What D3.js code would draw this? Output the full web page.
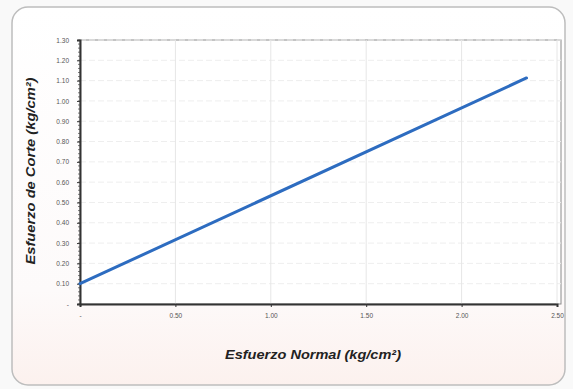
<!DOCTYPE html>
<html><head><meta charset="utf-8">
<script src="https://cdn.jsdelivr.net/npm/d3@7"></script>
<style>body{margin:0;background:#fff}svg{display:block}</style>
</head><body>
<script>
const normalStress = [0, 2.34];
const shearStress = [0.10, 1.113];
const xTicks = [0, 0.5, 1.0, 1.5, 2.0, 2.5];
const xTickLabels = ["-", "0.50", "1.00", "1.50", "2.00", "2.50"];
const yTicks = [0,0.1,0.2,0.3,0.4,0.5,0.6,0.7,0.8,0.9,1.0,1.1,1.2,1.3];
const yTickLabels = ["-","0.10","0.20","0.30","0.40","0.50","0.60","0.70","0.80","0.90","1.00","1.10","1.20","1.30"];

const W = 573, H = 389;
const svg = d3.select("body").append("svg").attr("width", W).attr("height", H);
const defs = svg.append("defs");
const grad = defs.append("linearGradient").attr("id","bg").attr("x1",0).attr("y1",0).attr("x2",0).attr("y2",1);
grad.append("stop").attr("offset","0%").attr("stop-color","#ffffff");
grad.append("stop").attr("offset","75%").attr("stop-color","#fdfafa");
grad.append("stop").attr("offset","100%").attr("stop-color","#fcf1ee");
svg.append("rect").attr("width",W).attr("height",H).attr("fill","#f9f9f9");
svg.append("rect").attr("x",12).attr("y",7).attr("width",553).attr("height",378).attr("rx",16)
  .attr("fill","url(#bg)").attr("stroke","#bdbdbd").attr("stroke-width",1.5);

const m = {l:80, r:561, t:40, b:304};
const x = d3.scaleLinear().domain([0, 2.5]).range([m.l, 557]);
const y = d3.scaleLinear().domain([0, 1.3]).range([m.b, m.t]);

// plot frame
svg.append("rect").attr("x",m.l).attr("y",m.t).attr("width",m.r-m.l).attr("height",m.b-m.t)
  .attr("fill","#fff").attr("stroke","#8a8a8a").attr("stroke-width",1);

// grid
const g = svg.append("g");
g.selectAll(".hg").data(yTicks.slice(1)).join("line")
  .attr("x1",m.l).attr("x2",m.r).attr("y1",d=>y(d)).attr("y2",d=>y(d))
  .attr("stroke","#eeeeee").attr("stroke-width",1).attr("stroke-dasharray","6,3");
g.selectAll(".vg").data(xTicks.slice(1)).join("line")
  .attr("y1",m.t).attr("y2",m.b).attr("x1",d=>x(d)).attr("x2",d=>x(d))
  .attr("stroke","#e6e6e6").attr("stroke-width",1);

// axes
const yAxis = d3.axisLeft(y).tickValues(yTicks).tickFormat((d,i)=>yTickLabels[i]).tickSize(3).tickPadding(8);
const ya = svg.append("g").attr("transform",`translate(${m.l},0)`).call(yAxis);
const xAxis = d3.axisBottom(x).tickValues(xTicks).tickFormat((d,i)=>xTickLabels[i]).tickSize(3).tickPadding(6);
const xa = svg.append("g").attr("transform",`translate(0,${m.b})`).call(xAxis);
[ya, xa].forEach(a=>{
  a.select(".domain").attr("stroke","#333").attr("stroke-width",2);
  a.selectAll(".tick line").attr("stroke","#333");
  a.selectAll("text").attr("font-family","Liberation Sans, Arial, sans-serif").attr("font-size",6.5).attr("fill","#555");
});
// minor ticks on y
svg.append("g").selectAll("line").data(d3.range(0,1.301,0.02)).join("line")
  .attr("x1",m.l-2).attr("x2",m.l).attr("y1",d=>y(d)).attr("y2",d=>y(d)).attr("stroke","#444").attr("stroke-width",0.7);

// line
const data = normalStress.map((v,i)=>[v, shearStress[i]]);
svg.append("path").datum(data)
  .attr("d", d3.line().x(d=>x(d[0])).y(d=>y(d[1])))
  .attr("fill","none").attr("stroke","#2d6cc0").attr("stroke-width",3).attr("stroke-linecap","round");

// titles
svg.append("text").attr("x",313).attr("y",359).attr("text-anchor","middle")
  .attr("font-family","Liberation Sans, Arial, sans-serif").attr("font-weight","bold").attr("font-style","italic")
  .attr("font-size",12).attr("fill","#222")
  .attr("textLength",176).attr("lengthAdjust","spacingAndGlyphs").text("Esfuerzo Normal (kg/cm²)");
svg.append("text").attr("transform","translate(35,171) rotate(-90)").attr("text-anchor","middle")
  .attr("font-family","Liberation Sans, Arial, sans-serif").attr("font-weight","bold").attr("font-style","italic")
  .attr("font-size",12).attr("fill","#222")
  .attr("textLength",187).attr("lengthAdjust","spacingAndGlyphs").text("Esfuerzo de Corte (kg/cm²)");
</script>
</body></html>
